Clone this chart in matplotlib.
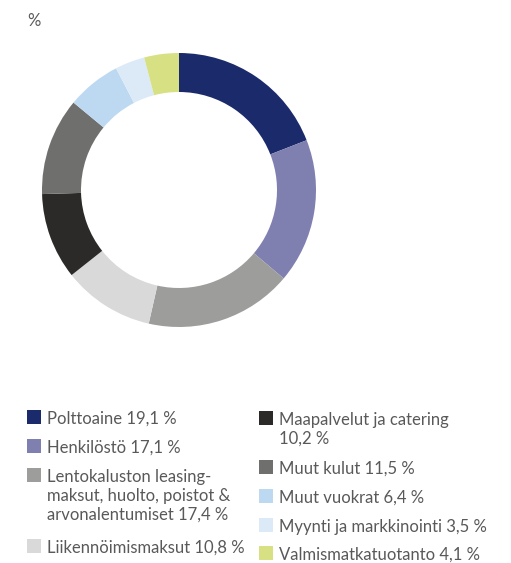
import matplotlib
matplotlib.use("Agg")
import matplotlib.pyplot as plt
from matplotlib.patches import Rectangle

# Cost structure shares, clockwise from 12 o'clock
labels = ["Polttoaine", "Henkilöstö",
          "Lentokaluston leasing-\nmaksut, huolto, poistot &\narvonalentumiset",
          "Liikennöimismaksut", "Maapalvelut ja catering\n", "Muut kulut",
          "Muut vuokrat", "Myynti ja markkinointi", "Valmismatkatuotanto"]
values = [19.1, 17.1, 17.4, 10.8, 10.2, 11.5, 6.4, 3.5, 4.1]
colors = ["#1b2a6b", "#7f7fb0", "#9d9d9c", "#d9d9d9", "#2b2a29",
          "#6f6f6e", "#bdd9f2", "#dceaf8", "#d8e084"]

plt.rcParams['font.family'] = ['Lato', 'DejaVu Sans']
txt = "#595959"
fs = 12

fig = plt.figure(figsize=(5.11, 5.63), dpi=100)
W, H = 511, 563

# donut
cx, cy, r = 179, 190, 137
ax = fig.add_axes([(cx - r) / W, 1 - (cy + r) / H, 2 * r / W, 2 * r / H])
ax.pie(values, colors=colors, startangle=90, counterclock=False,
       radius=1, wedgeprops=dict(width=39 / 137, linewidth=0))
ax.set_xlim(-1, 1)
ax.set_ylim(-1, 1)
ax.set_aspect('equal')
ax.axis('off')

fig.text(27 / W, 1 - 26 / H, "%", fontsize=fs, color=txt, va='baseline')


def fmt(v):
    return f"{v:.1f}".replace('.', ',') + " %"


# legend: two columns, y = square bottom / first baseline in pixels
left_rows = [424, 453, 482, 553]
right_rows = [425, 474, 503, 532, 560]
positions = [(27, y) for y in left_rows] + [(259, y) for y in right_rows]
sq = 14
lh = 19
for (x, y), lab, v, c in zip(positions, labels, values, colors):
    fig.patches.append(Rectangle((x / W, 1 - y / H), sq / W, sq / H,
                                 transform=fig.transFigure, color=c, linewidth=0))
    s = lab + fmt(v) if lab.endswith("\n") else lab + " " + fmt(v)
    for i, line in enumerate(s.split("\n")):
        fig.text((x + 20) / W, 1 - (y + i * lh) / H, line, fontsize=fs,
                 color=txt, va='baseline', ha='left')

fig.savefig("out.png", dpi=100)
